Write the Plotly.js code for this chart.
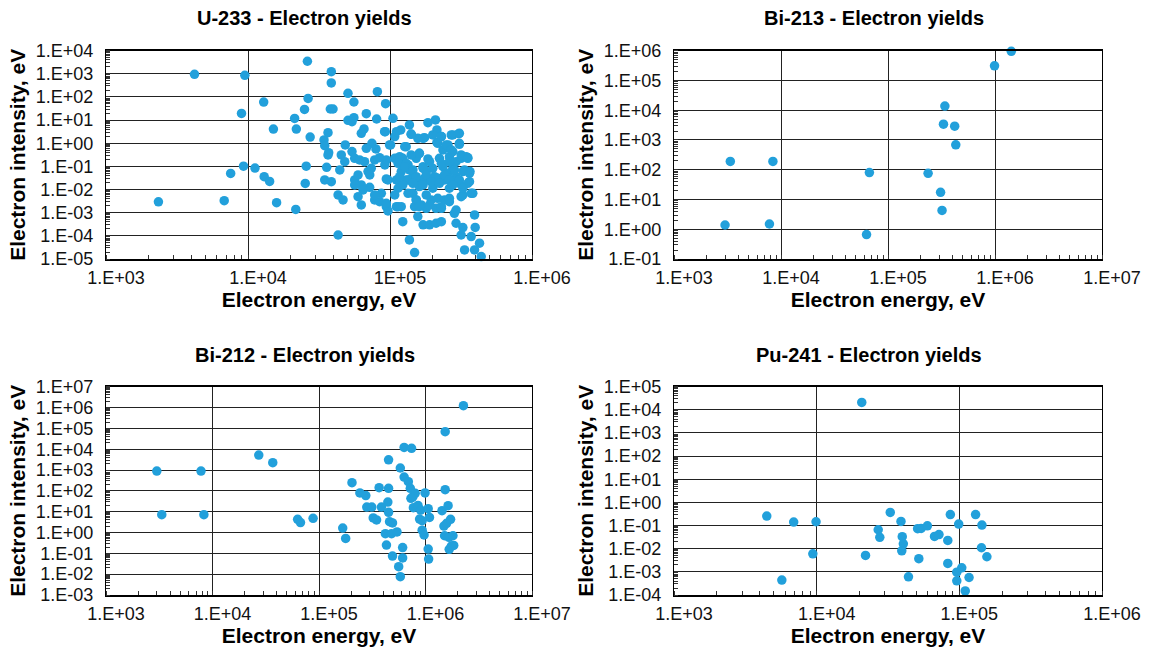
<!DOCTYPE html>
<html>
<head>
<meta charset="utf-8">
<script src="https://cdn.plot.ly/plotly-3.0.1.min.js"></script>
<style>
html,body{margin:0;padding:0;background:#fff;}
#chart{width:1152px;height:648px;}
</style>
</head>
<body>
<div id="chart"></div>
<script>
// ---------------- DATA ----------------
const panelTitles = ['U-233 - Electron yields', 'Bi-213 - Electron yields', 'Bi-212 - Electron yields', 'Pu-241 - Electron yields'];
const xAxisTitle = 'Electron energy, eV';
const yAxisTitle = 'Electron intensity, eV';

// U-233
const u233Energy = [
  2.62e4, 4.2e3, 9.5e3, 1.29e4, 2.65e4, 2.5e4, 9.0e3, 2.13e4, 1.51e4, 2.19e4, 2.74e4,
  9.3e3, 1.12e4, 7.55e3, 2.57e4, 1.3e4, 1.42e4, 2.53e4, 2.34e3, 6.8e3, 1.59e4, 2.17e4,
  3.86e4, 3.86e4, 5.06e4, 8.15e4, 5.57e4, 9.31e4, 3.8e4, 3.97e4, 6.81e4, 5.06e4, 5.57e4,
  5.4e4, 8.05e4, 1.05e5, 3.66e4, 6.56e4, 6.28e4, 9.27e4, 1.19e5, 1.08e5, 3.43e4, 3.47e4,
  3.7e4, 4.84e4, 5.4e4, 7.46e4, 6.81e4, 7.96e4, 1.01e5,
  2.09e5, 1.85e5, 1.37e5, 2.14e5, 1.41e5, 1.57e5, 1.75e5, 2.3e5, 2.77e5, 3.05e5, 2.14e5,
  1.3e5, 2.56e5, 3.08e5, 2.36e5, 2.77e5, 1.61e5, 3.44e5, 2.23e5,
  3.66e4, 4.54e4, 4.8e4, 5.64e4, 6.11e4, 6.62e4, 7.8e4, 8.45e4, 1.08e5, 1.17e5, 3.58e4,
  3.47e4, 3.86e4, 5.64e4, 5.96e4, 7.0e4, 7.38e4, 9.42e4, 1.11e5, 6.28e4, 7.19e4, 6.46e4,
  8.69e4, 4.31e4, 4.67e4, 5.96e4, 7.8e4, 8.45e4, 6.28e4, 9.42e4, 9.68e4, 1.11e5, 1.14e5,
  1.23e5, 4.31e4,
  1.23e5, 1.34e5, 1.2e5, 1.3e5, 1.45e5, 1.53e5, 1.85e5, 1.71e5, 2.0e5, 2.62e5, 2.92e5,
  2.36e5, 2.77e5, 3.17e5, 3.53e5, 3.35e5, 3.66e5, 1.37e5, 1.57e5, 1.75e5, 1.95e5, 2.17e5,
  1.61e5, 2.0e5, 2.42e5, 2.77e5, 3.08e5, 2.62e5, 3.26e5, 3.73e5, 3.63e5, 1.2e5, 1.45e5,
  1.53e5, 1.49e5, 1.66e5, 1.8e5, 2.11e5, 2.3e5, 1.95e5, 2.42e5, 2.62e5, 1.57e5, 1.71e5,
  1.9e5, 2.11e5, 2.3e5, 2.84e5, 2.92e5, 3.26e5, 3.17e5, 3.94e5, 3.98e5, 3.73e5, 4.27e5,
  3.35e5, 3.94e5, 4.39e5, 1.37e5, 1.49e5, 1.37e5, 2.56e5, 2.92e5, 1.8e5, 1.3e5,
  9.16e4, 1.11e5, 1.41e5, 1.71e5, 2.0e5, 2.3e5, 2.7e5, 3.08e5, 9.93e4, 1.27e5, 1.61e5,
  1.41e5, 1.17e5, 9.42e4, 2.17e5, 2.49e5, 3.08e5, 2.7e5, 3.17e5, 3.53e5, 1.14e5, 1.27e5,
  1.45e5, 1.71e5, 1.9e5, 2.3e5, 2.62e5, 2.84e5, 3.26e5, 3.63e5, 1.17e5, 1.34e5, 1.53e5,
  1.8e5, 2.06e5, 2.42e5, 2.62e5, 3.08e5, 3.53e5, 9.66e4, 1.23e5, 1.45e5, 1.71e5, 1.95e5,
  2.23e5, 2.77e5, 3.26e5, 3.83e5, 1.08e5, 1.34e5, 1.53e5, 1.8e5, 2.17e5, 2.62e5, 3.17e5,
  9.42e4, 1.14e5, 1.61e5, 1.9e5, 2.3e5, 2.92e5,
  4.43e4, 7.2e4, 9.2e4, 5.64e4, 7.8e4
];
const u233Intensity = [
  3.5e3, 950, 860, 60, 87, 29, 19.5, 11.9, 4.1, 4.1, 1.85,
  0.103, 0.085, 0.05, 0.103, 0.036, 0.0225, 0.0184, 2.97e-3, 3.3e-3, 2.7e-3, 1.38e-3,
  1240, 403, 144, 170, 60.8, 51.5, 30.3, 30.3, 19.1, 9.8, 12.8,
  8.6, 11.2, 12.0, 2.88, 4.15, 2.7, 3.18, 3.76, 1.94, 1.39, 0.79,
  0.394, 0.845, 0.436, 1.0, 0.607, 0.568, 0.845,
  10.2, 7.8, 6.2, 3.76, 2.44, 1.64, 1.75, 1.94, 2.29, 2.61, 1.1,
  0.716, 0.845, 0.9, 0.514, 0.436, 0.369, 0.265, 0.224,
  0.313, 0.313, 0.161, 0.224, 0.19, 0.161, 0.19, 0.239, 0.224, 0.19, 0.0916,
  0.026, 0.022, 0.026, 0.0428, 0.0596, 0.083, 0.0287, 0.026, 0.0158, 0.0125, 9.6e-3,
  6.9e-3, 5.85e-3, 3.56e-3, 4.95e-3, 3.56e-3, 3.0e-3, 2.16e-3, 1.83e-3, 1.19e-3, 1.83e-3, 0.0114,
  4.1e-4, 1.09e-4,
  0.224, 0.116, 0.0596, 0.026, 0.0362, 0.224, 0.21, 0.098, 0.083, 0.265, 0.161,
  0.098, 0.083, 0.224, 0.239, 0.0703, 0.0596, 0.026, 0.022, 0.0307, 0.022, 0.0307,
  0.0134, 0.0114, 0.026, 0.022, 0.0187, 0.0114, 5.85e-3, 6.9e-3, 0.022, 1.83e-3, 6.9e-3,
  3.56e-3, 1.83e-3, 2.16e-3, 1.55e-3, 1.55e-3, 1.55e-3, 3.56e-3, 3.56e-3, 3.0e-3, 6.8e-4, 3.0e-4,
  3.0e-4, 3.5e-4, 4.1e-4, 9.4e-4, 3.5e-4, 2.27e-4, 1.09e-4, 8.0e-4, 2.3e-4, 9.3e-5, 4.8e-5,
  2.46e-5, 2.46e-5, 1.27e-5, 6.7e-5, 1.9e-5, 0.0703, 0.0505, 0.0362, 0.0596, 0.136,
  3.18, 3.18, 2.52, 1.64, 2.29, 1.94, 2.29, 2.7, 0.845, 0.716, 0.369,
  0.313, 0.265, 0.19, 1.0, 0.845, 1.0, 0.514, 0.313, 0.224, 0.136, 0.098,
  0.0703, 0.083, 0.161, 0.136, 0.161, 0.0703, 0.0596, 0.0505, 0.0362, 0.026, 0.0362,
  0.0428, 0.0362, 0.0428, 0.026, 0.026, 0.0187, 0.026, 0.0158, 0.0187, 0.0158, 0.022,
  0.0187, 0.0158, 0.0114, 6.9e-3, 5.85e-3, 6.9e-3, 3.56e-3, 5.85e-3, 4.2e-3, 4.2e-3, 4.95e-3,
  2.55e-3, 1.83e-3, 1.83e-3, 2.16e-3, 1.83e-3, 1.31e-3,
  0.0703, 0.0428, 0.116, 0.0158, 5.85e-3
];

// Bi-213
const bi213Energy = [1.42e6, 9.9e5, 3.4e5, 3.3e5, 4.2e5, 4.3e5, 3.36e3, 8.4e3, 6.7e4, 2.37e5, 3.1e5, 3.2e5, 3.0e3, 7.8e3, 6.3e4];
const bi213Intensity = [9.5e5, 3.1e5, 1.38e4, 3.4e3, 2.9e3, 690, 190, 190, 80, 76, 17.4, 4.3, 1.39, 1.5, 0.66];

// Bi-212
const bi212Energy = [
  2.27e6, 1.53e6, 6.3e5, 7.4e5, 4.5e5, 5.8e5, 2.72e4, 3.68e4, 3.0e3, 7.8e3, 3.34e3, 8.3e3,
  6.3e4, 6.7e4, 8.8e4, 1.67e5, 1.78e5, 2.04e5, 2.42e5, 2.75e5, 2.81e5, 3.13e5, 3.23e5, 3.47e5,
  3.67e5, 4.5e5, 3.86e5, 4.43e5, 4.5e5, 4.6e5, 4.9e5, 4.2e5, 4.8e5, 5.4e5, 4.3e5, 6.1e5,
  4.9e5, 6.1e5, 5.6e5, 5.8e5, 6.3e5, 6.9e5, 7.2e5, 8.0e5, 7.6e5, 7.3e5, 7.7e5, 8.5e5,
  9.0e5, 8.8e5, 9.3e5, 9.3e5, 9.7e5, 9.9e5, 1.06e6, 1.09e6, 1.06e6, 1.07e6, 1.53e6, 1.43e6,
  1.63e6, 1.49e6, 1.58e6, 1.72e6, 1.51e6, 1.66e6, 1.81e6, 1.84e6, 1.67e6, 1.75e6
];
const bi212Intensity = [
  1.22e6, 6.9e4, 1.22e4, 1.1e4, 3.1e3, 1.25e3, 5.2e3, 2.25e3, 895, 895, 7.2, 7.2,
  4.3, 3.0, 4.8, 1.64, 0.52, 247, 79, 59, 16.7, 16.7, 5.0, 4.0,
  142, 132, 16.7, 29, 9.3, 3.3, 2.9, 0.88, 0.88, 1.06, 0.25, 0.19,
  0.074, 0.06, 0.023, 7.6e-3, 461, 275, 132, 76, 51, 44, 15.6, 20,
  12, 4.4, 3.7, 1.3, 0.76, 79, 13.9, 5.3, 0.16, 0.053, 114, 11.2,
  19.4, 2.05, 2.75, 4.3, 0.7, 0.59, 0.7, 0.24, 0.156, 0.225
];

// Pu-241
const pu241Energy = [
  2.07e4, 4.47e3, 6.9e3, 9.9e3, 9.4e3, 5.7e3, 2.2e4, 2.7e4, 2.77e4, 3.28e4, 3.9e4, 3.98e4,
  4.05e4, 3.95e4, 4.4e4, 5.2e4, 5.1e4, 5.4e4, 5.97e4, 6.7e4, 7.2e4, 8.3e4, 8.65e4, 9.9e4,
  8.3e4, 1.04e5, 9.6e4, 9.6e4, 1.17e5, 1.1e5, 1.3e5, 1.44e5, 1.43e5, 1.56e5
];
const pu241Intensity = [
  2.1e4, 0.257, 0.141, 0.146, 6.0e-3, 4.4e-4, 5.1e-3, 0.066, 0.031, 0.37, 0.151, 0.033,
  0.0163, 8.1e-3, 6.1e-4, 3.7e-3, 0.073, 0.075, 0.098, 0.034, 0.041, 0.0228, 0.30, 0.116,
  2.3e-3, 1.5e-3, 9.7e-4, 4.1e-4, 5.7e-4, 1.5e-4, 0.30, 0.105, 0.011, 4.5e-3
];

// Tick labels
const xTicks3to6 = [1e3, 1e4, 1e5, 1e6];
const xText3to6U = ['1.E+03', '1.E+04', '1E+05', '1.E+06'];
const xText3to6 = ['1.E+03', '1.E+04', '1.E+05', '1.E+06'];
const xTicks3to7 = [1e3, 1e4, 1e5, 1e6, 1e7];
const xText3to7 = ['1.E+03', '1.E+04', '1.E+05', '1.E+06', '1.E+07'];
const yTicksU = [1e-5, 1e-4, 1e-3, 1e-2, 1e-1, 1e0, 1e1, 1e2, 1e3, 1e4];
const yTextU = ['1.E-05', '1.E-04', '1.E-03', '1.E-02', '1.E-01', '1.E+00', '1.E+01', '1.E+02', '1.E+03', '1.E+04'];
const yTicksBi213 = [1e-1, 1e0, 1e1, 1e2, 1e3, 1e4, 1e5, 1e6];
const yTextBi213 = ['1.E-01', '1.E+00', '1.E+01', '1.E+02', '1.E+03', '1.E+04', '1.E+05', '1.E+06'];
const yTicksBi212 = [1e-3, 1e-2, 1e-1, 1e0, 1e1, 1e2, 1e3, 1e4, 1e5, 1e6, 1e7];
const yTextBi212 = ['1.E-03', '1.E-02', '1.E-01', '1.E+00', '1.E+01', '1.E+02', '1.E+03', '1.E+04', '1.E+05', '1.E+06', '1.E+07'];
const yTicksPu = [1e-4, 1e-3, 1e-2, 1e-1, 1e0, 1e1, 1e2, 1e3, 1e4, 1e5];
const yTextPu = ['1.E-04', '1.E-03', '1.E-02', '1.E-01', '1.E+00', '1.E+01', '1.E+02', '1.E+03', '1.E+04', '1.E+05'];

// ---------------- STYLE ----------------
const FONT = 'Liberation Sans, Arial, Helvetica, sans-serif';
const MARKER = {color: '#22a0db', size: 9.5, line: {width: 0}};
const W = 1152, H = 648;

function trace(x, y, xa, ya, name) {
  return {x: x, y: y, type: 'scatter', mode: 'markers', marker: MARKER, cliponaxis: false,
          xaxis: xa, yaxis: ya, name: name, showlegend: false, hoverinfo: 'x+y'};
}

function xAxis(dom, range, vals, text, anchor) {
  return {
    type: 'log', domain: dom, range: range, anchor: anchor,
    tickmode: 'array', tickvals: vals, ticktext: text,
    ticks: '', ticklabelstandoff: 2, ticklabelshift: 10,
    tickfont: {family: FONT, size: 18, color: '#111'},
    showgrid: true, gridcolor: '#222', gridwidth: 1,
    showline: true, linecolor: '#000', linewidth: 1.6, mirror: true,
    zeroline: false,
    minor: {tickmode: 'linear', dtick: 'D1', ticks: 'inside', ticklen: 4, tickwidth: 1, tickcolor: '#333', showgrid: false},
    title: {text: xAxisTitle, standoff: 2, font: {family: FONT, size: 21, color: '#000', weight: 'bold'}},
    fixedrange: true
  };
}
function yAxis(dom, range, vals, text, anchor) {
  return {
    type: 'log', domain: dom, range: range, anchor: anchor,
    tickmode: 'array', tickvals: vals, ticktext: text,
    ticks: '', ticklabelstandoff: 8,
    tickfont: {family: FONT, size: 18, color: '#111'},
    showgrid: true, gridcolor: '#222', gridwidth: 1,
    showline: true, linecolor: '#000', linewidth: 1.2, mirror: true,
    zeroline: false,
    minor: {tickmode: 'linear', dtick: 'D1', ticks: 'inside', ticklen: 4, tickwidth: 1, tickcolor: '#333', showgrid: false},
    title: {text: yAxisTitle, standoff: 4, font: {family: FONT, size: 21, color: '#000', weight: 'bold'}},
    fixedrange: true
  };
}

const dxL = [106 / W, 532 / W];
const dxR = [674 / W, 1102 / W];
const dyT = [(H - 259) / H, (H - 50.7) / H];
const dyB = [(H - 595) / H, (H - 386.7) / H];

const data = [
  trace(u233Energy, u233Intensity, 'x', 'y', panelTitles[0]),
  trace(bi213Energy, bi213Intensity, 'x2', 'y2', panelTitles[1]),
  trace(bi212Energy, bi212Intensity, 'x3', 'y3', panelTitles[2]),
  trace(pu241Energy, pu241Intensity, 'x4', 'y4', panelTitles[3])
];

function titleAnn(text, xpx, ypx) {
  return {text: '<b>' + text + '</b>', xref: 'paper', yref: 'paper', x: xpx / W, y: 1 - ypx / H,
          xanchor: 'center', yanchor: 'middle', showarrow: false,
          font: {family: FONT, size: 20, color: '#000'}};
}

const layout = {
  width: W, height: H,
  margin: {l: 0, r: 0, t: 0, b: 0},
  paper_bgcolor: '#fff', plot_bgcolor: '#fff',
  showlegend: false,
  xaxis: xAxis(dxL, [3, 6], xTicks3to6, xText3to6U, 'y'),
  yaxis: yAxis(dyT, [-5, 4], yTicksU, yTextU, 'x'),
  xaxis2: xAxis(dxR, [3, 7], xTicks3to7, xText3to7, 'y2'),
  yaxis2: yAxis(dyT, [-1, 6], yTicksBi213, yTextBi213, 'x2'),
  xaxis3: xAxis(dxL, [3, 7], xTicks3to7, xText3to7, 'y3'),
  yaxis3: yAxis(dyB, [-3, 7], yTicksBi212, yTextBi212, 'x3'),
  xaxis4: xAxis(dxR, [3, 6], xTicks3to6, xText3to6, 'y4'),
  yaxis4: yAxis(dyB, [-4, 5], yTicksPu, yTextPu, 'x4'),
  annotations: [
    titleAnn(panelTitles[0], 304, 18),
    titleAnn(panelTitles[1], 874, 18),
    titleAnn(panelTitles[2], 305, 355),
    titleAnn(panelTitles[3], 869, 355)
  ]
};

Plotly.newPlot('chart', data, layout, {staticPlot: true, displayModeBar: false});
</script>
</body>
</html>
